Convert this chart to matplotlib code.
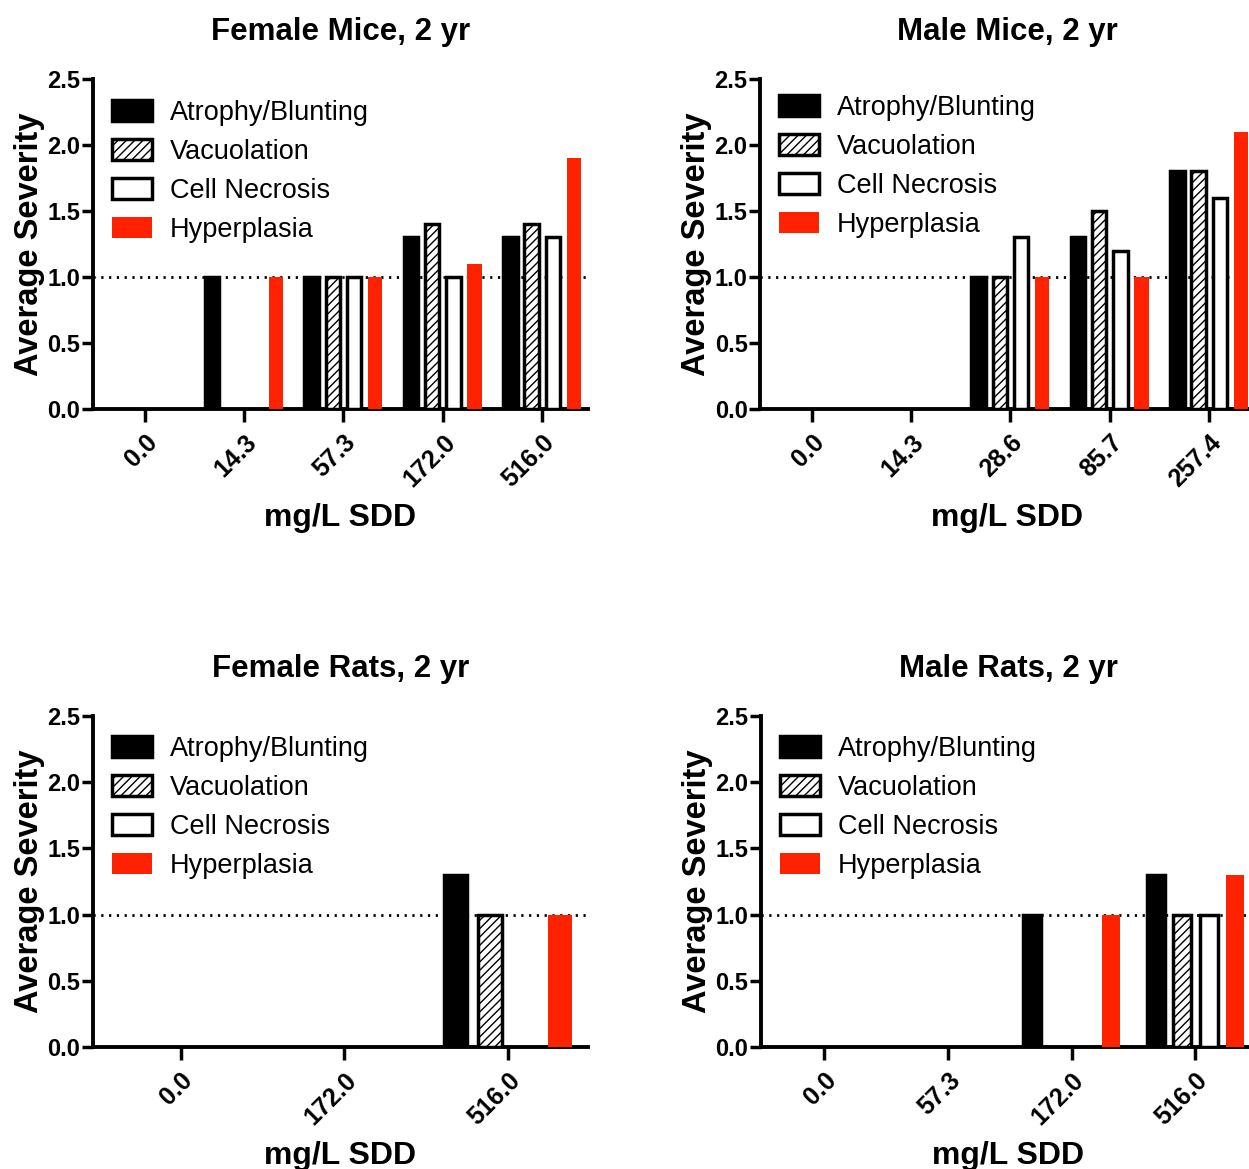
import matplotlib
matplotlib.use("Agg")
import matplotlib.pyplot as plt
import numpy as np

plt.rcParams['font.family'] = ['Liberation Sans', 'DejaVu Sans']
plt.rcParams['hatch.linewidth'] = 1.0

series_names = ["Atrophy/Blunting", "Vacuolation", "Cell Necrosis", "Hyperplasia"]

# Female mice, 2 yr
fm_doses = ["0.0", "14.3", "57.3", "172.0", "516.0"]
fm_atrophy = [0, 1.0, 1.0, 1.3, 1.3]
fm_vacuol = [0, 0, 1.0, 1.4, 1.4]
fm_necrosis = [0, 0, 1.0, 1.0, 1.3]
fm_hyper = [0, 1.0, 1.0, 1.1, 1.9]

# Male mice, 2 yr
mm_doses = ["0.0", "14.3", "28.6", "85.7", "257.4"]
mm_atrophy = [0, 0, 1.0, 1.3, 1.8]
mm_vacuol = [0, 0, 1.0, 1.5, 1.8]
mm_necrosis = [0, 0, 1.3, 1.2, 1.6]
mm_hyper = [0, 0, 1.0, 1.0, 2.1]

# Female rats, 2 yr
fr_doses = ["0.0", "172.0", "516.0"]
fr_atrophy = [0, 0, 1.3]
fr_vacuol = [0, 0, 1.0]
fr_necrosis = [0, 0, 0]
fr_hyper = [0, 0, 1.0]

# Male rats, 2 yr
mr_doses = ["0.0", "57.3", "172.0", "516.0"]
mr_atrophy = [0, 0, 1.0, 1.3]
mr_vacuol = [0, 0, 0, 1.0]
mr_necrosis = [0, 0, 0, 1.0]
mr_hyper = [0, 0, 1.0, 1.3]

panels = [
    ("Female Mice, 2 yr", fm_doses, [fm_atrophy, fm_vacuol, fm_necrosis, fm_hyper]),
    ("Male Mice, 2 yr", mm_doses, [mm_atrophy, mm_vacuol, mm_necrosis, mm_hyper]),
    ("Female Rats, 2 yr", fr_doses, [fr_atrophy, fr_vacuol, fr_necrosis, fr_hyper]),
    ("Male Rats, 2 yr", mr_doses, [mr_atrophy, mr_vacuol, mr_necrosis, mr_hyper]),
]

red = '#ff2200'
faces = ['black', 'white', 'white', red]
edges = ['black', 'black', 'black', red]
hatches = [None, '////', None, None]
lws = [2.5, 2.5, 2.5, 0]
offsets = [-0.32, -0.107, 0.107, 0.32]
bw = 0.145

W, H = 1249, 1169
fig = plt.figure(figsize=(W / 100, H / 100), dpi=100)

# axes boxes in pixels: left, top(2.5), bottom(0.0), xlim, legend top
boxes = [
    (93, 79, 409, (-0.52, 4.46), 0.937),
    (760, 79, 409, (-0.52, 4.46), 0.952),
    (93, 716, 1047, (-0.535, 2.49), 0.94),
    (761, 716, 1047, (-0.51, 3.49), 0.94),
]
axw = 495

for (title, doses, vals), (lx, ty, by, xlim, legy) in zip(panels, boxes):
    ax = fig.add_axes([lx / W, 1 - by / H, axw / W, (by - ty) / H])
    x = np.arange(len(doses))
    for i in range(4):
        v = np.array(vals[i], dtype=float)
        v[v == 0] = np.nan  # empty groups have no bar drawn
        ax.bar(x + offsets[i], v, width=bw, color=faces[i], edgecolor=edges[i],
               hatch=hatches[i], linewidth=lws[i], zorder=3, label=series_names[i])
    ax.axhline(1.0, color='black', lw=2.0, ls=(0, (0.8, 2.0)), zorder=2)
    ax.set_xlim(*xlim)
    ax.set_ylim(0, 2.5)
    ax.set_yticks(np.arange(0, 2.51, 0.5))
    ax.set_yticklabels(["%.1f" % v for v in np.arange(0, 2.51, 0.5)],
                       fontsize=17, fontweight='bold')
    ax.set_xticks(x)
    ax.set_xticklabels(doses, rotation=45, ha='right', va='top', rotation_mode='anchor',
                       fontsize=18, fontweight='bold')
    ax.tick_params(axis='y', length=8, width=2.5, pad=1)
    ax.tick_params(axis='x', length=9, width=2.5, pad=6)
    for s in ['top', 'right']:
        ax.spines[s].set_visible(False)
    for s in ['left', 'bottom']:
        ax.spines[s].set_linewidth(2.8)
    ax.set_title(title, fontsize=22.5, fontweight='bold', pad=28)
    ax.set_xlabel("mg/L SDD", fontsize=23, fontweight='bold')
    ax.xaxis.set_label_coords(0.5, -0.285)
    ax.set_ylabel("Average Severity", fontsize=23.5, fontweight='bold')
    ax.yaxis.set_label_coords(-0.097, 0.5)
    ax.legend(loc='upper left', bbox_to_anchor=(0.038, legy), frameon=False,
              fontsize=19.5, handlelength=1.5, handleheight=0.85, handletextpad=0.65,
              labelspacing=0.47, borderpad=0, borderaxespad=0)

fig.savefig("out.png", dpi=100)
